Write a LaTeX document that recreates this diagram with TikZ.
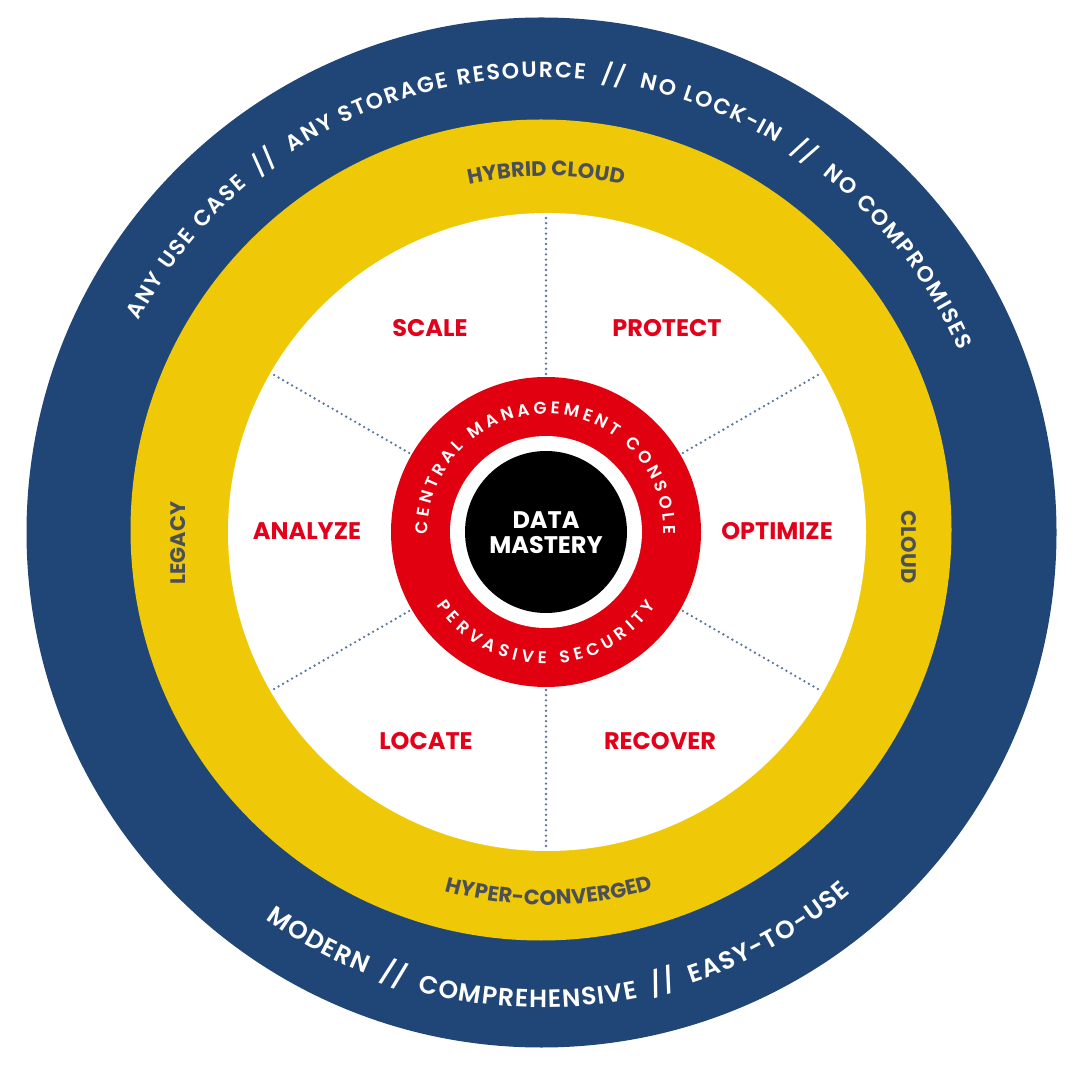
\documentclass[tikz,border=0pt]{standalone}
\usepackage{fontspec}
\setmainfont{Poppins}
\newfontfamily\popbold{Poppins}[UprightFont={* Bold}]
\newfontfamily\popsemi{Poppins}[UprightFont={* SemiBold}]
\usetikzlibrary{decorations.text,calc}
\definecolor{ringblue}{RGB}{31,70,119}
\definecolor{ringyellow}{RGB}{239,201,8}
\definecolor{ringred}{RGB}{225,0,15}
\definecolor{labred}{RGB}{226,0,26}
\definecolor{labgray}{RGB}{75,79,86}
\definecolor{dotblue}{RGB}{84,118,160}
\newcommand{\gapx}{{\hspace*{5pt}}}
\tikzset{
  redlabel/.style={font=\popbold\fontsize{24}{24}\selectfont, text=labred, text height=17pt, text depth=0pt, inner sep=0pt},
  graylabel/.style={font=\popbold\fontsize{21}{21}\selectfont, text=labgray, text height=15pt, text depth=0pt, inner sep=0pt},
  dotline/.style={draw=dotblue, line width=2.6pt, line cap=round, dash pattern=on 0pt off 5.2pt},
}
\begin{document}
\begin{tikzpicture}[x=1pt,y=1pt]
\useasboundingbox (0,0) rectangle (1087,1080);
\fill[white] (0,0) rectangle (1087,1080);
\coordinate (O) at (541.5,547.5);
\coordinate (Y) at (541,550);
\coordinate (C) at (546,548);
% rings
\fill[ringblue] (O) circle (515pt);
\fill[ringyellow] (Y) circle (410.5pt);
\fill[white] (547,548) circle (319pt);
% dotted spokes
\foreach \a in {90,30,-30,-90,150,210}
  \draw[dotline] ($(C)+(\a:158pt)$) -- ($(C)+(\a:319pt)$);
% red hub
\fill[ringred] (C) circle (155pt);
\fill[white] (C) circle (96pt);
\fill[black] (C) circle (81pt);
% centre text
\node[font=\popbold\fontsize{24}{25}\selectfont, text=white, align=center, inner sep=0pt] (dm) at (546,547) {DATA\\MASTERY};
% outer ring text
\path[decorate, decoration={text along path, text color=white,
  text={|\popsemi\fontsize{22}{22}\selectfont|ANY USE CASE {\hspace*{5pt}}// {\hspace*{5pt}}ANY STORAGE RESOURCE {\hspace*{5pt}}// {\hspace*{5pt}}NO LOCK-IN {\hspace*{5pt}}// {\hspace*{5pt}}NO COMPROMISES},
  text align=fit to path}]
  (O) ++(152.3:455pt) arc[start angle=152.3, end angle=23.5, radius=455pt];
\path[decorate, decoration={text along path, text color=white,
  text={|\popsemi\fontsize{25}{25}\selectfont|MODERN {\hspace*{5pt}}// {\hspace*{5pt}}COMPREHENSIVE {\hspace*{5pt}}// {\hspace*{5pt}}EASY-TO-USE},
  text align=fit to path}]
  (O) ++(234.5:475pt) arc[start angle=234.5, end angle=310.5, radius=475pt];
% yellow ring text
\path[decorate, decoration={text along path, text color=labgray,
  text={|\popbold\fontsize{21}{21}\selectfont|HYBRID CLOUD},
  text align=center}]
  (C) ++(120:356pt) arc[start angle=120, end angle=60, radius=356pt];
\path[decorate, decoration={text along path, text color=labgray,
  text={|\popbold\fontsize{21}{21}\selectfont|HYPER-CONVERGED},
  text align=center}]
  (C) ++(240.5:373pt) arc[start angle=240.5, end angle=300.5, radius=373pt];
\node[graylabel, rotate=90] (legacy) at (178,537) {LEGACY};
\node[graylabel, rotate=-90] (cloud) at (909,533) {CLOUD};
% red hub text
\path[decorate, decoration={text along path, text color=white,
  text={|\popsemi\fontsize{17}{17}\selectfont|CENTRAL MANAGEMENT CONSOLE},
  text align=fit to path}]
  (C) ++(181:118pt) arc[start angle=181, end angle=-1, radius=118pt];
\path[decorate, decoration={text along path, text color=white,
  text={|\popsemi\fontsize{17}{17}\selectfont|PERVASIVE SECURITY},
  text align=fit to path}]
  (C) ++(214:132pt) arc[start angle=214, end angle=326, radius=132pt];
% sector labels
\node[redlabel] (scale) at (430,752) {SCALE};
\node[redlabel] (protect) at (667,752) {PROTECT};
\node[redlabel] (analyze) at (307,549) {ANALYZE};
\node[redlabel] (optimize) at (777,549) {OPTIMIZE};
\node[redlabel] (locate) at (426,339) {LOCATE};
\node[redlabel] (recover) at (660,339) {RECOVER};
\end{tikzpicture}
\end{document}
